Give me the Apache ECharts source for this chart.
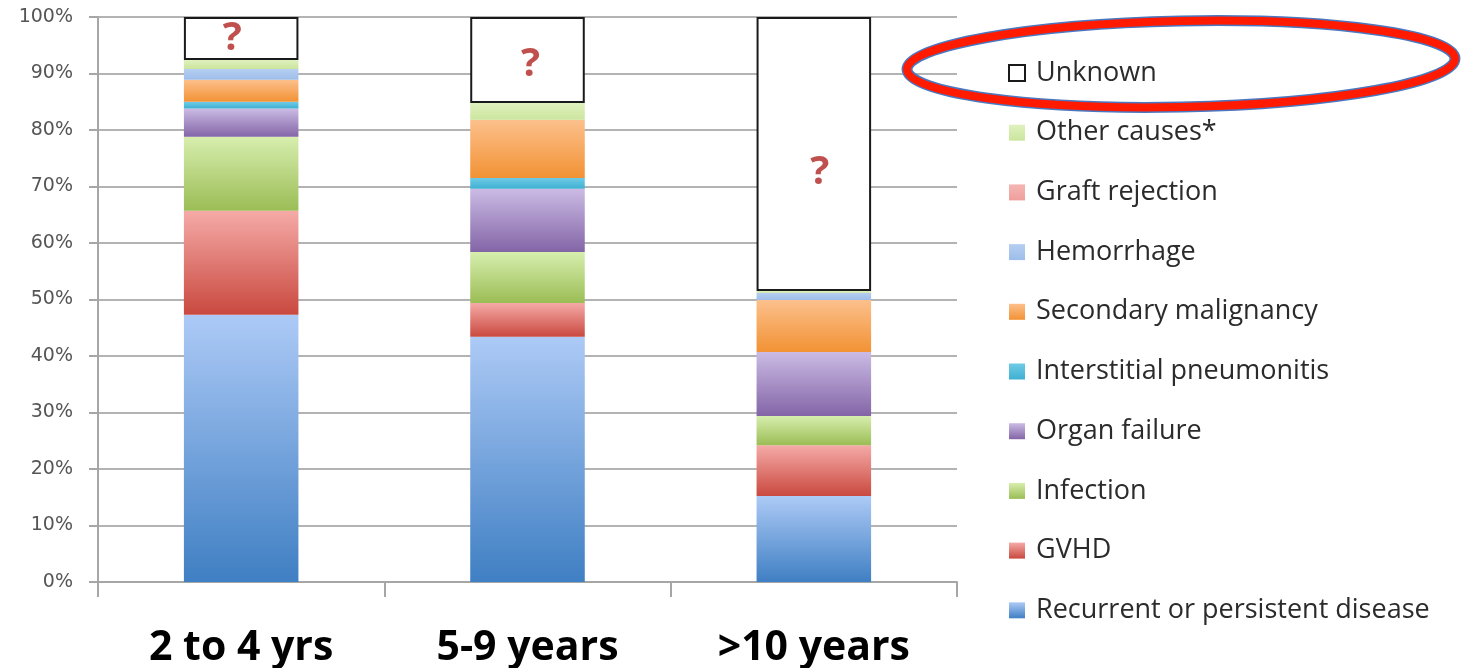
<!DOCTYPE html>
<html>
<head>
<meta charset="utf-8">
<script src="https://cdn.jsdelivr.net/npm/echarts@6/dist/echarts.min.js"></script>
<style>
  html, body { margin: 0; padding: 0; background: #fff; }
  #chart { width: 1466px; height: 668px; }
</style>
</head>
<body>
<div id="chart"></div>
<script>
// Time since transplant
const categories = ['2 to 4 yrs', '5-9 years', '>10 years'];

// Share of deaths by cause (%), stacked bottom to top
const recurrent    = [47.3, 43.4, 15.2];
const gvhd         = [18.4, 6.0, 9.0];
const infection    = [13.1, 9.0, 5.2];
const organFailure = [5.0, 11.2, 11.3];
const pneumonitis  = [1.2, 1.9, 0];
const malignancy   = [3.9, 10.3, 9.2];
const hemorrhage   = [1.9, 0, 1.3];
const graftReject  = [0, 0, 0];
const otherCauses  = [1.6, 3.0, 0.3];
const unknown      = [7.6, 15.2, 48.5];

const yTicks = ['0%', '10%', '20%', '30%', '40%', '50%', '60%', '70%', '80%', '90%', '100%'];

// Small nudges for the "?" marks inside the unknown boxes
const qOffsets = [[-9, 0], [3, 5], [6, 19]];

const grad = (top, bottom) => new echarts.graphic.LinearGradient(0, 0, 0, 1, [
  { offset: 0, color: top }, { offset: 1, color: bottom }
]);

const seriesDefs = [
  { name: 'Recurrent or persistent disease', data: recurrent,    color: grad('#adcaf6', '#3f7fc3') },
  { name: 'GVHD',                            data: gvhd,         color: grad('#f5aaa7', '#c9493f') },
  { name: 'Infection',                       data: infection,    color: grad('#d7eeae', '#9bbd55') },
  { name: 'Organ failure',                   data: organFailure, color: grad('#cbbbe4', '#8365a7') },
  { name: 'Interstitial pneumonitis',        data: pneumonitis,  color: grad('#6fcbe6', '#3fb0d2') },
  { name: 'Secondary malignancy',            data: malignancy,   color: grad('#fcc08c', '#f29234') },
  { name: 'Hemorrhage',                      data: hemorrhage,   color: grad('#b6cff2', '#9dbde9') },
  { name: 'Graft rejection',                 data: graftReject,  color: grad('#f6b6b3', '#ee9f9c') },
  { name: 'Other causes*',                   data: otherCauses,  color: grad('#dff1bf', '#cbe59d') }
];

const FONT = '"Open Sans", Lato, sans-serif';

const series = seriesDefs.map(d => ({
  name: d.name,
  type: 'bar',
  stack: 'total',
  barWidth: '40%',
  data: d.data,
  itemStyle: { color: d.color },
  emphasis: { disabled: true }
}));

series.push({
  name: 'Unknown',
  type: 'bar',
  stack: 'total',
  barWidth: '40%',
  data: unknown.map((v, i) => ({
    value: v,
    label: { offset: qOffsets[i] }
  })),
  itemStyle: { color: '#ffffff', borderColor: '#1a1a1a', borderWidth: 2 },
  label: {
    show: true,
    position: 'inside',
    formatter: '?',
    fontFamily: FONT,
    fontWeight: 'bold',
    fontSize: 40,
    color: '#c0504d'
  },
  emphasis: { disabled: true }
});

const legendNames = series.map(s => s.name).reverse();

const chart = echarts.init(document.getElementById('chart'));
chart.setOption({
  animation: false,
  backgroundColor: '#ffffff',
  grid: { left: 98, right: 509, top: 17, bottom: 86, containLabel: false, outerBoundsMode: 'none' },
  xAxis: {
    type: 'category',
    data: categories,
    axisLine: { lineStyle: { color: '#a6a6a6', width: 2 } },
    axisTick: { show: true, length: 15, lineStyle: { color: '#a6a6a6', width: 2 } },
    axisLabel: {
      margin: 46,
      fontFamily: FONT,
      fontWeight: 'bold',
      fontSize: 41,
      color: '#000000'
    }
  },
  yAxis: {
    type: 'value',
    min: 0,
    max: 100,
    interval: 10,
    axisLine: { show: true, lineStyle: { color: '#a6a6a6', width: 2 } },
    axisTick: { show: true, length: 9, lineStyle: { color: '#a6a6a6', width: 2 } },
    splitLine: { lineStyle: { color: '#b3b3b3', width: 2 } },
    axisLabel: {
      margin: 25,
      formatter: v => '{t|' + yTicks[Math.round(v / 10)] + '}',
      rich: {
        t: {
          fontFamily: '"DejaVu Sans", sans-serif',
          fontSize: 19,
          color: '#555555'
        }
      }
    }
  },
  legend: {
    orient: 'vertical',
    left: 1003,
    top: 47,
    data: legendNames,
    icon: 'rect',
    itemWidth: 16,
    itemHeight: 16,
    itemGap: 17.7,
    selectedMode: false,
    textStyle: {
      fontFamily: FONT,
      fontSize: 27,
      lineHeight: 30,
      color: '#2b2b2b',
      padding: [12, 0, 0, 6]
    }
  },
  graphic: [
    {
      type: 'ellipse',
      shape: { cx: 1181, cy: 64, rx: 274, ry: 43 },
      rotation: 0.02,
      originX: 1181,
      originY: 64,
      style: { fill: null, stroke: '#4a78c0', lineWidth: 11 },
      z: 100
    },
    {
      type: 'ellipse',
      shape: { cx: 1181, cy: 64, rx: 274, ry: 43 },
      rotation: 0.02,
      originX: 1181,
      originY: 64,
      style: { fill: null, stroke: '#ff1a00', lineWidth: 8 },
      z: 101
    }
  ],
  series: series
});
</script>
</body>
</html>
